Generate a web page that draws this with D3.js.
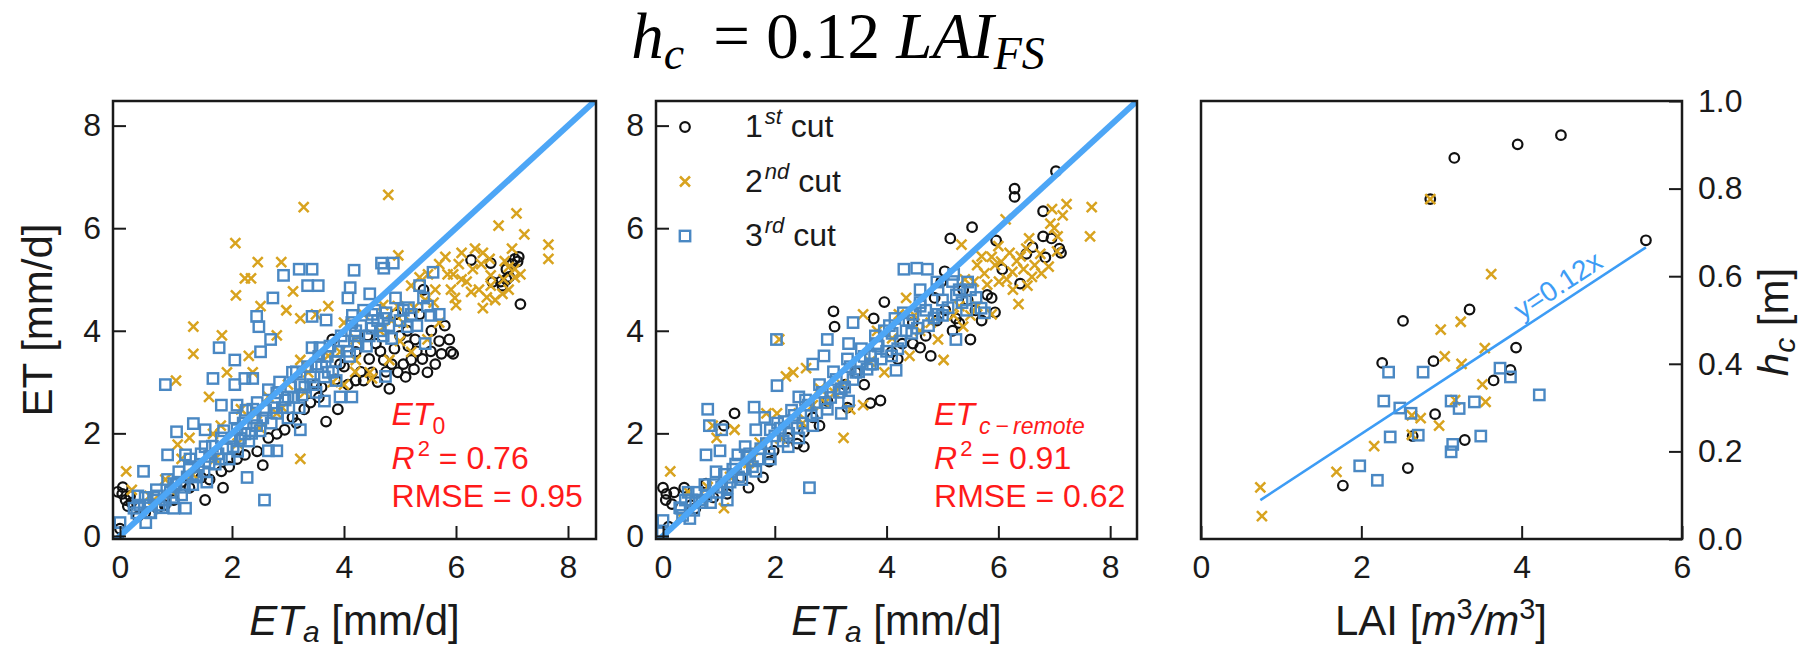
<!DOCTYPE html>
<html>
<head>
<meta charset="utf-8">
<script src="https://cdn.jsdelivr.net/npm/d3@7"></script>
<style>
body { margin: 0; background: #fff; }
text { font-family: "Liberation Sans", Arial, sans-serif; }
</style>
</head>
<body>
<svg id="chart" width="1804" height="649"></svg>
<script>

// ---- data ----
var etTicks = [0, 2, 4, 6, 8];
var laiTicks = [0, 2, 4, 6];
var hcTicks = [0, 0.2, 0.4, 0.6, 0.8, 1.0];
var cutLabels = [['1', 'st'], ['2', 'nd'], ['3', 'rd']];

// panel 1 : ET0 vs ETa  [ETa, ET0]
var et0Cut1 = [[-0.04,0.86],[0.04,0.82],[0.14,0.58],[0.18,0.78],[0.0,0.14],[0.1,0.7],[0.2,0.65],[0.05,0.95],[1.52,0.7],[1.84,0.94],[1.45,1.14],[1.1,1.05],[2.55,1.38],[3.68,2.23],[3.89,2.47],[4.81,2.87],[4.71,3.43],[4.85,3.35],[4.96,3.19],[5.06,3.35],[5.2,3.43],[5.49,3.19],[5.63,3.35],[5.74,3.55],[5.91,3.59],[5.95,3.55],[5.88,3.83],[5.56,4.0],[5.35,4.32],[5.42,4.8],[6.27,5.38],[6.62,5.32],[6.8,4.96],[6.83,4.88],[7.05,5.4],[7.12,5.44],[7.15,4.52],[6.9,5.2],[6.95,5.05],[7.0,5.3],[4.07,2.95],[4.21,3.03],[4.35,3.03],[4.5,3.19],[4.6,3.0],[4.57,3.75],[4.42,3.91],[4.21,3.59],[3.79,3.83],[3.93,3.35],[4.0,3.3],[3.5,2.95],[3.4,2.6],[3.6,2.9],[3.29,2.47],[3.08,2.31],[2.8,1.99],[2.65,1.91],[2.94,2.07],[2.09,1.5],[2.23,1.58],[1.81,1.26],[1.24,0.94],[0.96,0.7],[0.67,0.54],[0.32,0.38],[4.92,4.32],[5.13,4.0],[5.27,3.83],[5.3,3.6],[5.0,3.9],[4.3,3.2],[4.45,3.45],[4.65,3.6],[4.75,3.2],[5.1,3.1],[5.25,3.25],[5.4,3.45],[5.55,3.6],[5.7,3.8],[5.15,3.7],[4.9,3.65],[3.85,3.05],[3.55,2.7],[3.15,2.2],[2.45,1.65],[1.95,1.35],[1.6,1.1],[0.8,0.6],[0.45,0.45],[5.8,4.1],[6.65,4.95],[6.9,5.0],[7.1,5.35]];
var et0Cut2 = [[4.79,6.65],[3.28,6.41],[2.06,5.71],[2.46,5.34],[2.88,5.34],[2.23,5.02],[2.34,5.02],[2.07,4.69],[3.09,4.77],[1.31,4.08],[1.31,3.55],[1.82,3.91],[2.3,3.51],[2.51,4.48],[2.97,4.4],[3.22,4.24],[3.5,4.32],[3.72,4.48],[1.0,3.03],[1.59,2.71],[1.91,3.19],[0.11,1.26],[0.21,0.9],[4.97,5.47],[6.76,6.05],[7.08,6.29],[7.22,5.88],[7.65,5.68],[7.65,5.4],[5.81,5.44],[6.1,5.52],[6.34,5.6],[6.48,5.52],[6.62,5.08],[5.35,5.04],[5.2,4.88],[5.63,4.8],[5.91,4.8],[5.98,4.64],[6.19,4.96],[6.41,4.8],[6.48,4.44],[6.27,4.76],[6.62,4.88],[6.87,5.36],[6.94,5.24],[6.94,4.8],[7.05,5.04],[6.83,4.72],[5.7,4.16],[5.49,3.83],[5.2,3.59],[4.64,4.0],[4.35,4.32],[4.96,4.48],[5.06,4.16],[3.22,1.5],[4.46,3.19],[4.5,3.07],[4.0,4.16],[4.21,3.83],[4.81,3.43],[2.8,3.91],[2.37,3.19],[2.44,2.39],[2.8,2.39],[1.66,1.99],[1.24,1.91],[1.03,1.78],[1.1,1.5],[0.53,0.78],[0.81,1.1],[1.8,2.15],[2.16,2.47],[2.65,2.71],[3.0,2.95],[3.36,3.19],[3.72,3.51],[3.93,3.59],[4.21,3.43],[3.22,3.43],[4.0,2.95],[5.45,4.6],[5.85,5.1],[6.05,5.3],[6.6,5.4],[7.0,5.6],[5.5,5.1],[5.7,5.3],[5.95,5.1],[6.1,5.0],[6.3,5.2],[6.45,5.3],[6.55,4.65],[6.7,4.6],[6.85,5.0],[7.05,5.2],[7.15,5.1],[5.25,4.45],[5.6,4.55],[6.0,4.5],[4.7,4.5],[4.85,4.2],[5.0,3.8],[4.2,3.2],[3.8,3.0],[3.3,2.8],[2.9,2.5],[2.5,2.1],[2.1,1.8],[1.7,1.5],[1.3,1.2],[0.9,0.9],[0.6,0.7]];
var et0Cut3 = [[0.42,1.26],[0.81,2.95],[1.01,2.03],[1.31,2.19],[0.85,1.58],[1.17,1.58],[1.66,3.07],[1.77,3.67],[2.05,3.43],[2.23,3.07],[2.05,2.95],[2.37,3.07],[2.44,4.28],[2.48,4.08],[2.51,3.59],[2.69,3.83],[2.73,4.64],[2.92,5.08],[3.2,5.2],[3.43,5.2],[3.35,4.88],[3.54,4.88],[3.43,4.28],[3.68,4.21],[4.18,5.18],[4.11,4.84],[4.07,4.64],[4.46,4.72],[4.67,5.32],[4.71,5.22],[4.88,5.32],[4.92,4.64],[5.59,5.14],[5.35,4.88],[5.42,4.64],[5.7,4.32],[5.45,3.75],[4.74,3.11],[2.58,0.7],[2.27,1.14],[1.52,2.07],[1.81,2.55],[2.09,2.55],[2.65,1.66],[2.8,1.66],[3.22,2.07],[3.65,2.63],[3.86,3.03],[3.43,3.67],[3.57,3.67],[4.14,4.16],[4.21,4.0],[4.5,4.32],[4.71,4.24],[5.06,4.4],[5.2,4.32],[5.49,4.48],[5.13,4.08],[3.93,2.71],[4.14,2.71],[0.46,0.26],[0.0,0.26],[-0.04,0.06],[0.25,0.54],[0.67,0.78],[0.96,1.02],[1.17,0.54],[0.96,0.54],[1.38,1.18],[1.59,1.42],[1.81,1.5],[2.02,1.74],[2.23,1.99],[2.44,2.15],[2.8,2.39],[3.0,2.71],[3.22,2.95],[3.5,3.35],[3.72,3.19],[3.08,3.19],[2.8,2.79],[2.37,2.47],[2.09,2.07],[1.81,1.91],[1.52,1.74],[1.24,1.34],[0.53,0.46],[0.81,0.7],[0.32,0.78],[0.3,0.45],[0.5,0.6],[0.6,0.75],[0.7,0.6],[0.9,0.85],[1.0,1.0],[1.1,0.8],[1.2,1.15],[1.3,1.0],[1.4,1.35],[1.5,1.25],[1.6,1.55],[1.7,1.4],[1.9,1.7],[2.0,1.9],[2.1,1.65],[2.2,2.2],[2.3,1.85],[2.4,2.3],[2.5,2.05],[2.6,2.45],[2.7,2.2],[2.9,2.5],[3.0,2.3],[3.1,2.7],[3.2,2.5],[3.3,2.9],[3.4,3.1],[3.5,2.8],[3.6,3.3],[3.7,3.5],[3.8,3.2],[3.9,3.6],[4.0,3.8],[4.1,3.5],[4.2,3.9],[4.3,4.1],[4.4,3.7],[4.5,4.05],[4.6,4.2],[4.7,3.9],[4.8,4.1],[0.35,0.6],[0.45,0.75],[0.55,0.45],[0.65,0.9],[0.75,0.55],[0.85,1.1],[0.95,0.75],[1.05,1.25],[1.15,0.95],[1.25,1.5],[1.35,1.15],[1.45,1.6],[1.55,1.05],[1.65,1.75],[1.75,1.6],[1.85,2.05],[1.95,1.5],[2.05,2.3],[2.15,1.9],[2.25,2.45],[2.35,2.0],[2.45,2.6],[2.55,2.3],[2.65,2.85],[2.75,2.5],[2.85,3.0],[2.95,2.65],[3.05,2.9],[3.15,3.2],[3.25,2.75],[3.35,3.3],[3.45,2.95],[3.55,3.5],[3.65,3.1],[3.75,3.7],[3.85,3.4],[3.95,3.9],[4.05,3.6],[4.15,4.3],[4.25,3.75],[4.35,4.4],[4.45,3.9],[4.55,4.4],[4.65,4.0],[4.75,4.35],[4.85,3.85],[5.0,4.2],[5.15,4.45],[5.3,4.1],[5.55,4.3]];

// panel 2 : ETc-remote vs ETa
var etcCut1 = [[7.03,7.11],[6.29,6.77],[6.29,6.61],[5.53,6.02],[5.14,5.8],[5.96,5.76],[6.8,6.33],[6.8,5.84],[6.84,5.43],[6.61,5.63],[7.09,5.6],[7.12,5.52],[6.39,4.92],[5.94,4.36],[5.5,3.83],[5.88,4.64],[5.04,5.16],[4.98,4.96],[4.79,3.51],[4.6,3.67],[4.47,3.75],[5.18,4.0],[5.24,4.24],[5.59,4.4],[3.96,4.56],[3.77,4.24],[3.05,4.38],[3.07,4.08],[3.89,2.64],[3.71,2.59],[2.52,1.74],[2.52,2.03],[1.28,2.39],[1.79,1.14],[1.53,0.94],[1.15,0.82],[1.09,2.15],[0.0,0.94],[0.06,0.82],[0.16,0.62],[0.38,0.94],[0.1,0.18],[4.28,3.75],[4.09,3.59],[3.45,3.19],[3.26,2.95],[2.94,2.63],[2.68,2.31],[2.24,1.91],[1.98,1.66],[0.77,1.02],[0.58,0.54],[4.86,4.64],[4.47,4.16],[6.07,5.2],[5.37,4.8],[0.05,0.7],[0.2,0.85],[4.9,4.2],[5.05,4.4],[5.3,4.15],[5.45,4.6],[5.7,4.2],[5.8,4.7],[4.7,3.9],[4.2,3.45],[3.6,2.95],[3.3,2.5],[2.8,2.15],[2.4,1.8],[1.9,1.45],[1.4,1.15],[0.9,0.75],[0.5,0.6],[6.5,5.5],[6.95,5.8]];
var etcCut2 = [[7.22,6.47],[7.67,6.41],[7.64,5.84],[6.96,6.37],[6.13,6.17],[5.34,5.68],[7.06,5.84],[6.93,6.09],[5.88,5.44],[5.94,5.28],[6.2,5.52],[6.33,5.36],[6.45,5.2],[6.65,5.28],[6.77,5.12],[5.75,5.12],[5.62,5.28],[5.56,4.96],[6.01,4.96],[6.26,4.8],[6.52,4.88],[6.36,4.52],[5.88,4.32],[5.62,4.48],[5.3,4.48],[5.37,4.08],[5.02,3.43],[4.92,3.83],[4.41,3.51],[4.22,4.32],[4.35,4.64],[3.83,4.0],[3.58,4.32],[3.23,1.91],[3.35,2.47],[3.58,2.55],[3.07,2.79],[2.33,3.19],[2.2,3.11],[2.08,3.83],[2.56,3.27],[2.04,2.39],[1.85,2.39],[1.28,2.07],[0.96,1.91],[0.13,1.26],[1.09,0.54],[0.89,2.15],[1.53,1.42],[1.73,1.82],[2.43,2.39],[2.81,2.87],[2.68,2.55],[0.45,0.86],[0.7,0.7],[0.32,0.38],[3.96,3.19],[4.6,4.0],[4.79,4.16],[6.0,5.65],[6.5,5.6],[7.0,6.0],[6.15,5.0],[5.4,5.0],[5.7,5.45],[5.8,4.9],[6.05,5.35],[6.25,5.15],[6.4,5.45],[6.6,5.05],[6.75,5.5],[6.9,5.25],[7.05,5.55],[7.15,6.25],[6.55,5.8],[5.2,4.3],[5.5,4.3],[4.5,4.3],[4.1,3.85],[3.7,3.4],[3.2,2.95],[2.9,2.6],[2.5,2.2],[2.1,1.9],[1.6,1.5],[1.2,1.15],[0.8,0.95]];
var etcCut3 = [[2.62,0.94],[2.03,3.83],[2.04,2.93],[0.8,2.47],[0.83,2.15],[1.05,2.07],[1.63,2.51],[1.82,2.31],[0.0,0.3],[-0.01,0.06],[0.48,0.34],[1.15,0.7],[0.77,1.58],[1.02,1.66],[1.34,1.58],[1.47,1.74],[1.66,2.07],[1.92,2.07],[2.17,2.23],[2.43,2.71],[2.68,3.35],[2.94,3.83],[2.88,3.51],[3.4,4.16],[3.32,3.75],[3.83,3.75],[4.15,4.24],[4.17,3.23],[4.31,5.2],[4.54,5.22],[4.73,5.2],[4.6,4.8],[4.92,4.8],[5.18,4.96],[5.3,4.8],[5.5,4.8],[5.24,3.83],[5.43,4.4],[5.69,4.44],[4.92,4.32],[4.47,4.32],[4.6,4.48],[3.96,4.0],[3.71,3.51],[3.45,3.19],[3.19,2.87],[2.94,2.47],[2.68,2.15],[2.43,1.91],[2.24,1.74],[1.92,1.5],[1.66,1.26],[1.41,1.1],[1.15,0.94],[0.77,0.78],[0.51,0.7],[0.32,0.54],[3.19,2.39],[3.32,2.63],[3.71,3.35],[4.09,3.51],[4.35,4.0],[0.3,0.55],[0.4,0.7],[0.55,0.5],[0.6,0.85],[0.7,0.65],[0.9,1.0],[1.0,0.85],[1.1,1.2],[1.2,1.05],[1.3,1.4],[1.45,1.3],[1.55,1.6],[1.7,1.5],[1.85,1.8],[2.0,1.95],[2.1,2.1],[2.25,2.0],[2.35,2.35],[2.5,2.2],[2.6,2.55],[2.75,2.4],[2.85,2.8],[3.0,2.7],[3.1,3.05],[3.25,2.9],[3.35,3.3],[3.5,3.2],[3.6,3.5],[3.75,3.35],[3.85,3.7],[4.0,3.6],[4.1,3.95],[4.25,3.8],[4.4,4.2],[4.55,4.05],[4.7,4.4],[4.85,4.25],[5.0,4.6],[5.1,4.45],[5.25,4.7],[0.35,0.4],[0.45,0.85],[0.65,0.7],[0.75,1.0],[0.85,0.65],[0.95,1.25],[1.05,0.95],[1.25,1.3],[1.35,1.15],[1.5,1.55],[1.6,1.35],[1.75,1.7],[1.9,1.6],[2.05,2.2],[2.15,1.85],[2.3,2.45],[2.4,2.1],[2.55,2.65],[2.65,2.35],[2.8,2.95],[2.9,2.6],[3.05,3.2],[3.15,2.8],[3.3,3.45],[3.4,3.05],[3.55,3.65],[3.65,3.25],[3.8,3.9],[3.9,3.45],[4.05,4.1],[4.2,3.65],[4.3,4.35],[4.45,3.95],[4.6,4.55],[4.75,4.1],[4.9,4.95],[5.0,4.3],[5.2,5.1],[5.35,4.55],[5.45,4.95],[5.6,4.65],[5.75,4.35]];

// panel 3 : canopy height vs LAI  [LAI, hc]
var hcCut1 = [[1.77,0.122],[2.26,0.402],[2.52,0.498],[2.58,0.162],[2.64,0.235],[2.86,0.776],[2.9,0.406],[2.92,0.285],[3.16,0.87],[3.29,0.226],[3.35,0.524],[3.65,0.362],[3.86,0.386],[3.93,0.437],[3.95,0.901],[4.49,0.922],[5.55,0.682]];
var hcCut2 = [[0.74,0.118],[0.76,0.052],[1.69,0.153],[2.16,0.212],[2.63,0.282],[2.74,0.276],[2.63,0.238],[2.86,0.776],[2.97,0.259],[2.99,0.478],[3.04,0.417],[3.24,0.496],[3.25,0.4],[3.51,0.353],[3.54,0.436],[3.55,0.313],[3.62,0.605],[3.17,0.317]];
var hcCut3 = [[1.98,0.167],[2.2,0.134],[2.28,0.315],[2.34,0.381],[2.36,0.233],[2.48,0.299],[2.62,0.287],[2.71,0.237],[2.77,0.381],[3.12,0.315],[3.14,0.216],[3.12,0.199],[3.22,0.298],[3.41,0.313],[3.49,0.235],[3.73,0.39],[3.86,0.37],[4.22,0.329]];
var hcSlope = 0.12;
var hcFitLai = [0.74, 5.55];

var statsET0 = ['0.76', '0.95'];
var statsETc = ['0.91', '0.62'];

// ---- layout ----
var svg = d3.select('#chart');
var ink = '#1a1a1a';
var black = '#111', gold = '#d8a31f', steel = '#4a88c3', lineBlue = '#4da6f6', red = '#ff1a1a';
var plotTop = 101, plotBottom = 539;
var panels = [{l: 113, r: 596}, {l: 656, r: 1137}, {l: 1201, r: 1682}];
var tickFont = 32;
var xMark = 'M-5,-5L5,5M-5,5L5,-5';

function makeX(p, dom) { return d3.scaleLinear().domain(dom).range([p.l, p.r]); }
var yET = d3.scaleLinear().domain([-0.06, 8.48]).range([plotBottom, plotTop]);
var yHc = d3.scaleLinear().domain([0, 1]).range([plotBottom, plotTop]);
var x1 = makeX(panels[0], [-0.125, 8.5]);
var x2 = makeX(panels[1], [-0.125, 8.48]);
var x3 = makeX(panels[2], [0, 6]);

function styleAxis(g) {
    g.select('.domain').remove();
    g.selectAll('.tick line').attr('stroke', ink).attr('stroke-width', 2);
    g.selectAll('.tick text').attr('fill', ink)
        .style('font-size', tickFont + 'px')
        .style('font-family', '"Liberation Sans", Arial, sans-serif');
}

function drawPoints(g, x, y, c1, c2, c3) {
    g.selectAll('.cut1').data(c1).enter().append('circle')
        .attr('class', 'cut1')
        .attr('cx', d => x(d[0])).attr('cy', d => y(d[1]))
        .attr('r', 4.8)
        .attr('fill', 'none').attr('stroke', black).attr('stroke-width', 2.2);
    g.selectAll('.cut2').data(c2).enter().append('path')
        .attr('class', 'cut2')
        .attr('transform', d => 'translate(' + x(d[0]) + ',' + y(d[1]) + ')')
        .attr('d', xMark)
        .attr('stroke', gold).attr('stroke-width', 2.5);
    g.selectAll('.cut3').data(c3).enter().append('rect')
        .attr('class', 'cut3')
        .attr('x', d => x(d[0]) - 5.2).attr('y', d => y(d[1]) - 5.2)
        .attr('width', 10.4).attr('height', 10.4)
        .attr('fill', 'none').attr('stroke', steel).attr('stroke-width', 2.4);
}

function clipFor(id, p) {
    svg.append('clipPath').attr('id', id).append('rect')
        .attr('x', p.l).attr('y', plotTop).attr('width', p.r - p.l).attr('height', plotBottom - plotTop);
}

// ET panels
function etPanel(i, x, c1, c2, c3, stats, label) {
    var p = panels[i];
    clipFor('clip' + i, p);
    var g = svg.append('g').attr('clip-path', 'url(#clip' + i + ')');
    drawPoints(g, x, yET, c1, c2, c3);
    // 1:1 line
    g.append('line')
        .attr('x1', x(-0.2)).attr('y1', yET(-0.2))
        .attr('x2', x(8.6)).attr('y2', yET(8.6))
        .attr('stroke', lineBlue).attr('stroke-width', 6);

    svg.append('g').attr('transform', 'translate(' + p.l + ',0)')
        .call(d3.axisLeft(yET).tickValues(etTicks).tickSize(-13).tickPadding(12))
        .call(styleAxis);
    svg.append('g').attr('transform', 'translate(0,' + plotBottom + ')')
        .call(d3.axisBottom(x).tickValues(etTicks).tickSize(-13).tickPadding(16))
        .call(styleAxis);
    svg.append('rect').attr('x', p.l).attr('y', plotTop)
        .attr('width', p.r - p.l).attr('height', plotBottom - plotTop)
        .attr('fill', 'none').attr('stroke', ink).attr('stroke-width', 2.5);

    // stats text
    var tx = x(4.85);
    var t0 = svg.append('text').attr('x', tx).attr('y', yET(2.16))
        .attr('fill', red).style('font-size', '32px');
    t0.append('tspan').style('font-style', 'italic').text('ET');
    if (label === '0') {
        t0.append('tspan').attr('dy', 9).style('font-size', '23px').text('0');
    } else {
        t0.append('tspan').attr('dy', 9).attr('dx', 4).style('font-size', '23px')
            .style('font-style', 'italic').text(label);
    }
    var t1 = svg.append('text').attr('x', tx).attr('y', yET(1.31))
        .attr('fill', red).style('font-size', '32px');
    t1.append('tspan').style('font-style', 'italic').text('R');
    t1.append('tspan').attr('dy', -13).attr('dx', 3).style('font-size', '22px').text('2');
    t1.append('tspan').attr('dy', 13).text(' = ' + stats[0]);
    svg.append('text').attr('x', tx).attr('y', yET(0.57))
        .attr('fill', red).style('font-size', '32px')
        .text('RMSE = ' + stats[1]);

    // x label
    var xl = svg.append('text').attr('x', (p.l + p.r) / 2 + 0).attr('y', 635)
        .attr('text-anchor', 'middle').attr('fill', ink).style('font-size', '42px');
    xl.append('tspan').style('font-style', 'italic').text('ET');
    xl.append('tspan').attr('dy', 7).style('font-style', 'italic').style('font-size', '30px').text('a');
    xl.append('tspan').attr('dy', -7).text(' [mm/d]');
}

etPanel(0, x1, et0Cut1, et0Cut2, et0Cut3, statsET0, '0');
etPanel(1, x2, etcCut1, etcCut2, etcCut3, statsETc, 'c\u2009\u2212\u2009remote');

// y label panel 1
svg.append('text').attr('transform', 'translate(52,320) rotate(-90)')
    .attr('text-anchor', 'middle').attr('fill', ink).style('font-size', '42px')
    .text('ET [mm/d]');

// legend in panel 2
var leg = svg.append('g').attr('transform', 'translate(' + (panels[1].l + 29) + ',127)');
cutLabels.forEach(function(c, i) {
    var row = leg.append('g').attr('transform', 'translate(0,' + (i * 54.5) + ')');
    if (i === 0) row.append('circle').attr('r', 4.8).attr('fill', 'none').attr('stroke', black).attr('stroke-width', 2.2);
    if (i === 1) row.append('path').attr('d', xMark).attr('stroke', gold).attr('stroke-width', 2.5);
    if (i === 2) row.append('rect').attr('x', -5.2).attr('y', -5.2).attr('width', 10.4).attr('height', 10.4)
        .attr('fill', 'none').attr('stroke', steel).attr('stroke-width', 2.4);
    var t = row.append('text').attr('x', 60).attr('y', 10).attr('fill', ink).style('font-size', '32px');
    t.append('tspan').text(c[0]);
    t.append('tspan').attr('dy', -13).attr('dx', 2).style('font-size', '22px').style('font-style', 'italic').text(c[1]);
    t.append('tspan').attr('dy', 13).text(' cut');
});

// panel 3
(function() {
    var p = panels[2];
    clipFor('clip2', p);
    var g = svg.append('g').attr('clip-path', 'url(#clip2)');
    drawPoints(g, x3, yHc, hcCut1, hcCut2, hcCut3);
    g.append('line')
        .attr('x1', x3(hcFitLai[0])).attr('y1', yHc(hcSlope * hcFitLai[0]))
        .attr('x2', x3(hcFitLai[1])).attr('y2', yHc(hcSlope * hcFitLai[1]))
        .attr('stroke', '#3d9cf5').attr('stroke-width', 2.6);
    var ang = Math.atan2(yHc(hcSlope * 1) - yHc(0), x3(1) - x3(0)) * 180 / Math.PI;
    svg.append('text')
        .attr('transform', 'translate(' + x3(4.05) + ',' + yHc(hcSlope * 4.05) + ') rotate(' + ang + ')')
        .attr('dy', -7).attr('fill', '#3d9cf5').style('font-size', '28px').text('y=0.12x');

    svg.append('g').attr('transform', 'translate(' + p.r + ',0)')
        .call(d3.axisRight(yHc).tickValues(hcTicks).tickSize(-13).tickPadding(16).tickFormat(d3.format('.1f')))
        .call(styleAxis);
    svg.append('g').attr('transform', 'translate(0,' + plotBottom + ')')
        .call(d3.axisBottom(x3).tickValues(laiTicks).tickSize(-13).tickPadding(16).tickFormat(d3.format('d')))
        .call(styleAxis);
    svg.append('rect').attr('x', p.l).attr('y', plotTop)
        .attr('width', p.r - p.l).attr('height', plotBottom - plotTop)
        .attr('fill', 'none').attr('stroke', ink).attr('stroke-width', 2.5);

    var xl = svg.append('text').attr('x', 1441).attr('y', 635)
        .attr('text-anchor', 'middle').attr('fill', ink).style('font-size', '42px');
    xl.append('tspan').text('LAI [');
    xl.append('tspan').style('font-style', 'italic').text('m');
    xl.append('tspan').attr('dy', -16).style('font-size', '29px').text('3');
    xl.append('tspan').attr('dy', 16).style('font-style', 'italic').text('/m');
    xl.append('tspan').attr('dy', -16).style('font-size', '29px').text('3');
    xl.append('tspan').attr('dy', 16).text(']');

    var yl = svg.append('text').attr('transform', 'translate(1788,322) rotate(-90)')
        .attr('text-anchor', 'middle').attr('fill', ink).style('font-size', '42px');
    yl.append('tspan').style('font-style', 'italic').text('h');
    yl.append('tspan').attr('dy', 7).style('font-style', 'italic').style('font-size', '30px').text('c');
    yl.append('tspan').attr('dy', -7).text(' [m]');
})();

// title
var title = svg.append('text').attr('x', 838).attr('y', 58)
    .attr('text-anchor', 'middle').attr('fill', '#000')
    .style('font-family', '"Liberation Serif", "DejaVu Serif", serif').style('font-size', '65px');
title.append('tspan').style('font-style', 'italic').text('h');
title.append('tspan').attr('dy', 11).style('font-style', 'italic').style('font-size', '46px').text('c');
title.append('tspan').attr('dy', -11).text(' \u2009= 0.12 ');
title.append('tspan').style('font-style', 'italic').text('LAI');
title.append('tspan').attr('dy', 11).style('font-style', 'italic').style('font-size', '46px').text('FS');

</script>
</body>
</html>
